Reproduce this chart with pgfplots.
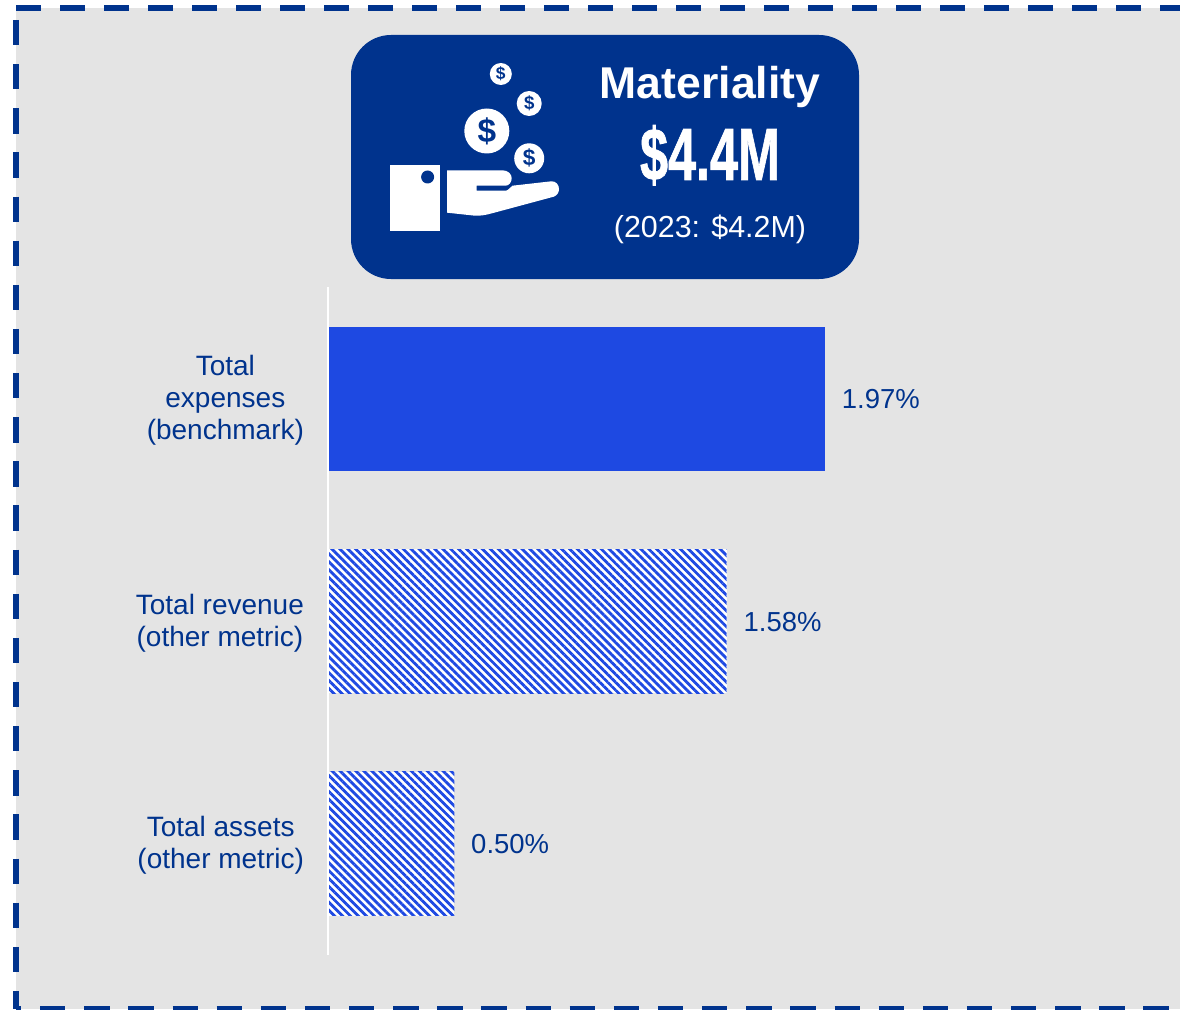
\documentclass[border=0pt]{standalone}
\usepackage{fontspec}
\setmainfont{Liberation Sans}
\usepackage{pgfplots}
\pgfplotsset{compat=1.18}
\usetikzlibrary{patterns.meta}
\definecolor{navy}{HTML}{00338D}
\definecolor{cobalt}{HTML}{1E49E2}
\definecolor{panel}{HTML}{E4E4E4}
\tikzset{
  hatched/.style={fill=white,draw=none,postaction={pattern={Lines[angle=-45,distance=4.2pt,line width=2.1pt]},pattern color=cobalt}},
  coin/.style={font=\bfseries,text=navy,inner sep=0pt,anchor=center}
}
\begin{document}
% picture units are reference pixels: 1px = 0.75pt, y pointing down
\begin{tikzpicture}[x=0.75pt,y=-0.75pt]
\path[use as bounding box] (0,0) rectangle (1180,1009);
\begin{scope}
\clip (0,0) rectangle (1180,1009);
\fill[panel] (16,8) rectangle (1180,1009);
\draw[navy,line width=4.8pt,dash pattern=on 18.9pt off 14.1pt] (16,8.3) -- (1180,8.3);
\draw[navy,line width=4.7pt,dash pattern=on 19pt off 14.1pt] (16,20) -- (16,1009);
\draw[navy,line width=4.8pt,dash pattern=on 19pt off 14.1pt,dash phase=15pt] (16,1009.5) -- (1180,1009.5);
\end{scope}
% header card
\fill[navy,rounded corners=30pt] (351,35) rectangle (859,279);
\node[anchor=base,text=white,font=\bfseries\fontsize{33.4}{36}\selectfont,inner sep=0pt] at (710,99) {Materiality};
\node[anchor=base,text=white,font=\bfseries\fontsize{55.5}{60}\selectfont\addfontfeature{FakeBold=1.2},inner sep=0pt] at (710,180) {\scalebox{0.68}[1]{\$4.4M}};
\node[anchor=base,text=white,font=\fontsize{22.8}{27}\selectfont,inner sep=0pt] at (710,237.3) {(2023: \$4.2M)};
% hand and coins icon
\fill[white] (390,165) rectangle (439.7,230.7);
\fill[navy] (427.6,177) circle[radius=6.5];
\fill[white] (447.2,170.3) -- (502.3,170.3) .. controls (508,170.3) and (511.7,174) .. (511.7,178.3)
  .. controls (511.7,182) and (509,185.7) .. (505.7,185.7) -- (476.6,185.7) -- (476.6,190.7) -- (505.7,190.7)
  .. controls (508,190.7) and (510,187.5) .. (512.4,185.7) -- (551.3,181.3)
  .. controls (556,181) and (559,185) .. (559,189) .. controls (559,192.5) and (557,195.5) .. (553.7,196.7)
  -- (492,213.3) .. controls (486,215) and (480,216) .. (475,215.7) -- (447.2,212.7) -- cycle;
\fill[white] (500.8,74) circle[radius=11];
\fill[white] (529.2,103.5) circle[radius=12.5];
\fill[white] (486.8,131) circle[radius=22.5];
\fill[white] (529.2,158.3) circle[radius=15];
\node[coin] at (500.8,74) {\fontsize{13}{14}\selectfont\$};
\node[coin] at (529.2,103.5) {\fontsize{14}{15}\selectfont\$};
\node[coin] at (486.8,131) {\fontsize{25}{26}\selectfont\$};
\node[coin] at (529.2,158.3) {\fontsize{17}{18}\selectfont\$};
% bars
\begin{axis}[
    at={(246.15pt,-716.25pt)},anchor=south west,
    x=189.15pt,y=166.9pt,
    xmin=0,xmax=3.38,ymin=-0.5,ymax=2.5,
    axis x line=none,
    axis y line*=left,
    axis line style={white,line width=1.3pt,-},
    axis on top,
    xbar,
    bar shift=0pt,
    bar width=108pt,
    ytick={0,1,2},
    yticklabels={{Total assets\\(other metric)},{Total revenue\\(other metric)},{Total\\expenses\\(benchmark)}},
    major tick length=0pt,
    yticklabel style={align=center,anchor=east,inner sep=0pt,xshift=-18pt,yshift=-1.5pt,text=navy,font=\fontsize{21}{24}\selectfont},
    point meta=x,
    nodes near coords={\pgfmathprintnumber[fixed,fixed zerofill,precision=2,assume math mode=true]{\pgfplotspointmeta}\%},
    nodes near coords style={anchor=west,inner sep=0pt,xshift=12.5pt,yshift=-0.6pt,text=navy,font=\fontsize{20.6}{24}\selectfont},
    clip=false,
  ]
  \addplot[fill=cobalt,draw=none] coordinates {(1.97,2)};
  \addplot[hatched] coordinates {(1.58,1)};
  \addplot[hatched] coordinates {(0.50,0)};
\end{axis}
\end{tikzpicture}
\end{document}
